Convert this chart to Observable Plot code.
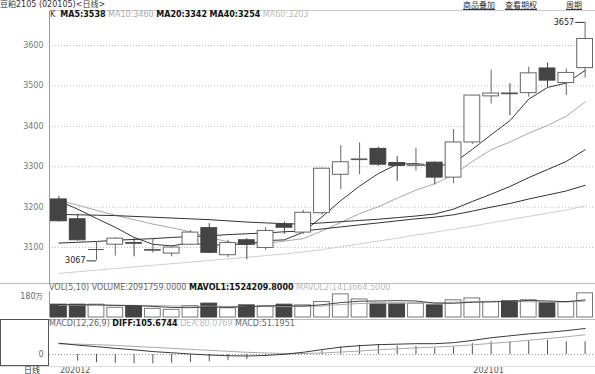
<!DOCTYPE html>
<html><head><meta charset="utf-8">
<script src="https://cdn.jsdelivr.net/npm/d3@7"></script>
<script src="https://cdn.jsdelivr.net/npm/@observablehq/plot@0.6"></script>
<style>
html,body{margin:0;padding:0;background:#fff;}
#wrap{position:relative;width:595px;height:374px;overflow:hidden;font-family:"DejaVu Sans","Noto Sans CJK SC",sans-serif;font-size:8px;color:#333;}
.abs{position:absolute;white-space:nowrap;line-height:1;}
.abs svg{display:block;}
.b{font-weight:bold;color:#111;}
.g{color:#aaa;}
.lg{color:#bbb;}
.lnk{text-decoration:underline;font-family:"Noto Sans CJK SC",sans-serif;line-height:10px;display:inline-block;}
</style></head><body><div id="wrap"></div>
<script>
// ---------- data ----------
const openP  = [3219,3170,3095,3107,3111,3093,3085,3107,3148,3081,3118,3099,3157,3137,3185,3280,3317,3344,3309,3302,3310,3273,3360,3474,3481,3482,3543,3507,3544];
const closeP = [3165,3118,3095,3122,3110,3094,3100,3137,3087,3111,3107,3141,3149,3186,3295,3311,3318,3305,3302,3305,3273,3360,3476,3481,3480,3531,3513,3532,3616];
const highP  = [3226,3182,3113,3124,3122,3120,3105,3142,3159,3118,3122,3149,3163,3192,3297,3352,3359,3348,3325,3346,3312,3392,3476,3539,3505,3546,3556,3542,3657];
const lowP   = [3163,3116,3067,3079,3077,3086,3077,3105,3085,3075,3070,3093,3133,3132,3180,3243,3280,3301,3264,3289,3255,3258,3355,3455,3426,3472,3496,3476,3519];
const ma5  = [3215,3195,3172,3150,3125,3108,3104,3112,3105,3108,3108,3117,3119,3138,3176,3216,3252,3283,3306,3308,3300,3309,3343,3379,3414,3467,3496,3507,3538];
const ma10 = [3217,3205,3192,3180,3169,3158,3149,3139,3125,3114,3108,3110,3116,3122,3141,3162,3184,3201,3222,3242,3258,3280,3313,3342,3361,3383,3402,3425,3460];
const ma20 = [3182,3181,3180,3179,3177,3175,3173,3171,3169,3166,3163,3161,3159,3158,3161,3164,3167,3170,3174,3178,3183,3195,3214,3232,3251,3273,3293,3313,3342];
const ma40 = [3111,3113,3115,3118,3120,3122,3125,3127,3129,3132,3134,3136,3139,3141,3146,3151,3156,3161,3166,3171,3175,3181,3190,3200,3209,3220,3230,3240,3254];
const ma60 = [3036,3040,3044,3048,3052,3056,3060,3064,3068,3072,3076,3080,3084,3089,3095,3102,3109,3116,3123,3131,3138,3145,3153,3161,3169,3177,3185,3193,3203];
const volume = [1110000,1110000,1110000,845000,990000,750000,660000,990000,1200000,800000,1050000,960000,1110000,1050000,1340000,2000000,1560000,1200000,1200000,1200000,1050000,1490000,1650000,1340000,1410000,1490000,1260000,1340000,2091759];
const mavol1 = [1100000,1100000,1100000,1050000,1030000,960000,870000,850000,920000,880000,940000,1000000,1020000,990000,1100000,1290000,1410000,1430000,1460000,1430000,1240000,1230000,1320000,1350000,1390000,1480000,1430000,1370000,1524210];
const mavol2 = [1050000,1060000,1070000,1060000,1050000,1030000,1000000,970000,970000,960000,950000,940000,940000,960000,990000,1120000,1210000,1230000,1230000,1270000,1270000,1320000,1370000,1400000,1410000,1360000,1330000,1340000,1413665];
const diff = [46,38,32,25,19,12,7,2,-2,-5,-6,-4,1,9,20,30,36,40,42,44,44,48,57,68,76,84,90,97,105.67];
const dea  = [43,42,40,37,33,29,25,21,17,13,9,6,4,4,6,10,14,19,23,27,30,34,39,45,51,58,65,72,80.08];
const macd = [-3,-27,-33,-36,-38,-38,-36,-32,-29,-25,-21,-8,-4,2,14,30,37,41,34,33,26,30,44,51,51,54,58,51,51.2];
const priceTicks = [3100,3200,3300,3400,3500,3600];
const volTicks = [1800000];
const volTickLabels = ["180万"];
const macdTicks = [0];
const monthStarts = [0,22];
const monthLabels = ["202012","202101"];

// ---------- helpers ----------
const N = closeP.length;
const rows = openP.map((o,i)=>({i, o, c: closeP[i], h: highP[i], l: lowP[i], up: closeP[i] >= o, v: volume[i], m: macd[i]}));
const HW = 0.42;
const xScale = {type:"linear", domain:[-0.5, N-0.5], range:[49, 594]};
const wrap = document.getElementById("wrap");
function place(node, left, top){ const d=document.createElement("div"); d.className="abs"; d.style.left=left+"px"; d.style.top=top+"px"; d.appendChild(node); wrap.appendChild(d); return d; }
function html(h, left, top, cls){ const d=document.createElement("div"); d.className="abs"+(cls?" "+cls:""); d.style.left=left+"px"; d.style.top=top+"px"; d.innerHTML=h; wrap.appendChild(d); return d; }
function hline(top, left, w, color){ const d=document.createElement("div"); d.className="abs"; Object.assign(d.style,{left:left+"px",top:top+"px",width:w+"px",height:"1px",background:color}); wrap.appendChild(d); }

const up = rows.filter(d=>d.up), dn = rows.filter(d=>!d.up);
const flat = rows.filter(d=>Math.abs(d.o-d.c)<2);
const iMax = d3.maxIndex(highP), iMin = d3.minIndex(lowP);
const extremes = [{i:iMax, y:highP[iMax]}, {i:iMin, y:lowP[iMin]}];

// ---------- main price panel ----------
const main = Plot.plot({
  width: 595, height: 272, marginTop: 0, marginBottom: 0, marginLeft: 49, marginRight: 1,
  x: {...xScale, axis: null},
  y: {domain:[3011, 3684], range:[272, 0], axis: null},
  style: {background:"transparent", fontFamily:"DejaVu Sans, sans-serif"},
  marks: [
    Plot.ruleY(priceTicks, {stroke:"#bdbdbd", strokeDasharray:"1,2", strokeWidth:1}),
    Plot.text(priceTicks, {x:-0.5, y:d=>d, text:d=>String(d), textAnchor:"end", dx:-6, fill:"#777", fontSize:8}),
    Plot.ruleX([-0.5], {stroke:"#999"}),
    Plot.line(ma60, {x:(d,i)=>i, y:d=>d, stroke:"#cfcfcf", strokeWidth:1}),
    Plot.line(ma10, {x:(d,i)=>i, y:d=>d, stroke:"#a8a8a8", strokeWidth:1}),
    Plot.line(ma40, {x:(d,i)=>i, y:d=>d, stroke:"#333", strokeWidth:1}),
    Plot.line(ma20, {x:(d,i)=>i, y:d=>d, stroke:"#333", strokeWidth:1}),
    Plot.line(ma5,  {x:(d,i)=>i, y:d=>d, stroke:"#222", strokeWidth:0.9}),
    Plot.ruleX(up, {x:"i", y1:"l", y2:"h", stroke:"#666", strokeWidth:1}),
    Plot.ruleX(dn, {x:"i", y1:"l", y2:"h", stroke:"#444", strokeWidth:1}),
    Plot.rect(up, {x1:d=>d.i-HW, x2:d=>d.i+HW, y1:"o", y2:"c", fill:"#fff", stroke:"#666", strokeWidth:1}),
    Plot.rect(dn, {x1:d=>d.i-HW, x2:d=>d.i+HW, y1:"o", y2:"c", fill:"#444", stroke:"#444", strokeWidth:1}),
    Plot.ruleY(flat, {x1:d=>d.i-HW, x2:d=>d.i+HW, y:d=>(d.o+d.c)/2, stroke:"#555", strokeWidth:1}),
    Plot.ruleY(extremes, {x1:d=>d.i-0.5, x2:d=>d.i, y:"y", stroke:"#333", strokeWidth:1}),
    Plot.text(extremes, {x:"i", y:"y", text:d=>String(d.y), textAnchor:"end", dx:-11, fill:"#222", fontSize:8})
  ]
});
place(main, 0, 11);

// ---------- volume panel ----------
const vol = Plot.plot({
  width: 595, height: 36, marginTop: 8, marginBottom: 2, marginLeft: 49, marginRight: 1,
  x: {...xScale, axis: null},
  y: {domain:[0, 2250000], range:[34, 8], axis: null},
  style: {background:"transparent", fontFamily:"DejaVu Sans, sans-serif"},
  marks: [
    Plot.ruleX([-0.5], {stroke:"#999"}),
    Plot.rect(up, {x1:d=>d.i-HW, x2:d=>d.i+HW, y1:0, y2:"v", fill:"#fff", stroke:"#777", strokeWidth:1}),
    Plot.rect(dn, {x1:d=>d.i-HW, x2:d=>d.i+HW, y1:0, y2:"v", fill:"#444", stroke:"#444", strokeWidth:1}),
    Plot.line(mavol2, {x:(d,i)=>i, y:d=>d, stroke:"#aaa", strokeWidth:1}),
    Plot.line(mavol1, {x:(d,i)=>i, y:d=>d, stroke:"#333", strokeWidth:0.9}),
    Plot.text(volTicks, {x:-0.5, y:d=>d, text:(d,i)=>volTickLabels[i], textAnchor:"end", dx:-6, fill:"#666", fontSize:8})
  ]
});
place(vol, 0, 283);

// ---------- MACD panel ----------
const mac = Plot.plot({
  width: 595, height: 55, marginTop: 0, marginBottom: 8, marginLeft: 49, marginRight: 1,
  x: {...xScale, axis: null},
  y: {domain:[-48.8, 142.3], range:[47, 0], axis: null},
  style: {background:"transparent", fontFamily:"DejaVu Sans, sans-serif"},
  marks: [
    Plot.ruleY(macdTicks, {stroke:"#999", strokeDasharray:"1,2"}),
    Plot.text(macdTicks, {x:-0.5, y:d=>d, text:d=>String(d), textAnchor:"end", dx:-6, fill:"#666", fontSize:8}),
    Plot.ruleX(rows, {x:"i", y1:0, y2:"m", stroke:"#555", strokeWidth:1}),
    Plot.line(dea,  {x:(d,i)=>i, y:d=>d, stroke:"#aaa", strokeWidth:1}),
    Plot.line(diff, {x:(d,i)=>i, y:d=>d, stroke:"#222", strokeWidth:0.9}),
    Plot.text(monthStarts, {x:d=>d, y:-48.8, text:(d,i)=>monthLabels[i], textAnchor:"start", dx:1, dy:4, fill:"#555", fontSize:8})
  ]
});
place(mac, 0, 319);

// ---------- frame lines & boxes ----------
hline(10, 49, 546, "#ccc");
hline(283, 0, 595, "#bbb");
hline(319, 0, 595, "#bbb");
hline(366, 0, 595, "#ddd");
const box = document.createElement("div"); box.className="abs";
Object.assign(box.style,{left:"0px",top:"319px",width:"47px",height:"45px",border:"1px solid #555"});
wrap.appendChild(box);

// ---------- texts ----------
html('豆粕2105 (020105)&lt;日线&gt;', 0, 1);
html('<span class="lnk">商品叠加</span>', 463, 0);
html('<span class="lnk">查看期权</span>', 505, 0);
html('<span class="lnk">周期</span>', 566, 0);
html('K&nbsp;&nbsp;<span class="b">MA5:3538</span> <span class="g">MA10:3460</span> <span class="b">MA20:3342</span> <span class="b">MA40:3254</span> <span class="lg">MA60:3203</span>', 50, 11);
html('<span style="color:#666">VOL(5,10) VOLUME:2091759.0000</span> <span class="b">MAVOL1:1524209.8000</span> <span class="lg">MAVOL2:1413664.5000</span>', 49, 284);
html('<span style="color:#666">MACD(12,26,9)</span> <span class="b">DIFF:105.6744</span> <span class="lg">DEA:80.0769</span> <span style="color:#666">MACD:51.1951</span>', 49, 320);
html('日线', 24, 367);
</script></body></html>
